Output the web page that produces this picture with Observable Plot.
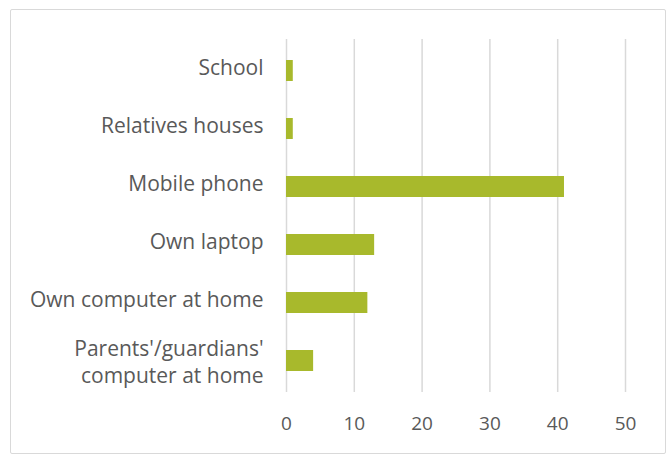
<!DOCTYPE html>
<html><head><meta charset="utf-8">
<script src="https://cdn.jsdelivr.net/npm/d3@7"></script>
<script src="https://cdn.jsdelivr.net/npm/@observablehq/plot@0.6"></script>
<style>
body{margin:0;background:#fff;}
#wrap{position:relative;width:672px;height:458px;}
#border{position:absolute;left:10px;top:9px;width:654px;height:443px;border:1.5px solid #d9d9d9;border-radius:2px;pointer-events:none;}
svg{font-family:"Open Sans",sans-serif;}
</style></head>
<body><div id="wrap"><div id="border"></div></div>
<script>
const categories = ["School","Relatives houses","Mobile phone","Own laptop","Own computer at home","Parents'/guardians'\ncomputer at home"];
const values = [1,1,41,13,12,4];
const ticks = [0,10,20,30,40,50];
const data = categories.map((c,i)=>({category:c,value:values[i]}));
const single = categories.filter(c => !c.includes("\n"));
const multi = categories.filter(c => c.includes("\n"));
const yText = {tickSize:0, tickPadding:23, fontSize:21, fill:"#595959", label:null};
const chart = Plot.plot({
  width:672, height:458,
  marginLeft:286, marginRight:47, marginTop:39, marginBottom:66,
  style:{fontFamily:"Open Sans, sans-serif", background:"transparent"},
  x:{domain:[0,50], ticks:ticks, label:null},
  y:{domain:categories, paddingInner:0.64, paddingOuter:0.32, label:null},
  marks:[
    Plot.gridX(ticks,{stroke:"#d9d9d9", strokeWidth:1.5, strokeOpacity:1}),
    Plot.axisX(ticks,{tickSize:0, tickPadding:24, fontSize:19, fill:"#595959", label:null}),
    Plot.axisY(single,{...yText, dy:-3}),
    Plot.axisY(multi,{...yText, dy:0, lineHeight:1.3}),
    Plot.barX(data,{x:"value", y:"category", fill:"#a8b92c"})
  ]
});
chart.style.position="absolute"; chart.style.left="0"; chart.style.top="0";
document.getElementById("wrap").appendChild(chart);
</script></body></html>
